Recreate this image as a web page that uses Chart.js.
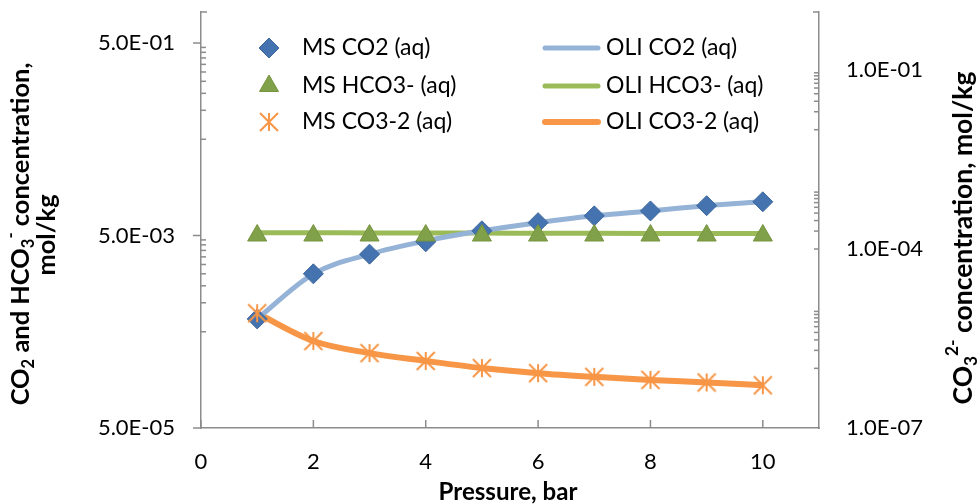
<!DOCTYPE html>
<html>
<head>
<meta charset="utf-8">
<script src="https://cdn.jsdelivr.net/npm/chart.js@4/dist/chart.umd.min.js"></script>
<style>
  body { margin: 0; background: #fff; }
  canvas { display: block; }
</style>
</head>
<body>
<canvas id="chart" width="979" height="504"></canvas>
<script>
// data
const pressure = [1, 2, 3, 4, 5, 6, 7, 8, 9, 10];
const msCO2 = [6.8e-4, 2.0e-3, 3.2e-3, 4.3e-3, 5.6e-3, 6.8e-3, 8.0e-3, 9.0e-3, 1.02e-2, 1.12e-2];
const oliCO2 = [6.8e-4, 2.0e-3, 3.2e-3, 4.4e-3, 5.6e-3, 6.8e-3, 8.0e-3, 9.0e-3, 1.02e-2, 1.12e-2];
const msHCO3 = [5.0e-3, 5.0e-3, 5.0e-3, 5.0e-3, 5.0e-3, 5.0e-3, 5.0e-3, 5.0e-3, 5.0e-3, 5.0e-3];
const oliHCO3 = [5.35e-3, 5.33e-3, 5.32e-3, 5.3e-3, 5.3e-3, 5.28e-3, 5.27e-3, 5.26e-3, 5.25e-3, 5.25e-3];
const msCO3 = [8.4e-6, 2.87e-6, 1.8e-6, 1.33e-6, 1.01e-6, 8.3e-7, 7.2e-7, 6.4e-7, 5.8e-7, 5.2e-7];
const oliCO3 = [8.4e-6, 2.87e-6, 1.8e-6, 1.33e-6, 1.01e-6, 8.3e-7, 7.2e-7, 6.4e-7, 5.8e-7, 5.2e-7];

const xTicks = [0, 2, 4, 6, 8, 10];
const leftTicks = [5e-5, 5e-3, 5e-1];
const rightTicks = [1e-7, 1e-4, 1e-1];
// minor tick groups: nine ticks at k/10 of each of these
const leftMinorBase = [5e-3, 5e-1];
const rightMinorBase = [1e-5, 1e-3, 1e-1];

const FONT = 'Lato, "Open Sans", sans-serif';
const axisColor = '#8c8c8c';

function sci(v) {
    const [m, e] = v.toExponential(1).split('e');
    const n = parseInt(e, 10);
    return m + 'E' + (n < 0 ? '-' : '+') + String(Math.abs(n)).padStart(2, '0');
}

// excel-like star: vertical bar plus an X
function makeStar(color, r, lw) {
    const size = 2 * r + 4;
    const c = document.createElement('canvas');
    c.width = c.height = size;
    const g = c.getContext('2d');
    const m = size / 2;
    g.strokeStyle = color;
    g.lineWidth = lw;
    g.beginPath();
    g.moveTo(m, m - r); g.lineTo(m, m + r);
    g.moveTo(m - r, m - r); g.lineTo(m + r, m + r);
    g.moveTo(m + r, m - r); g.lineTo(m - r, m + r);
    g.stroke();
    return c;
}
const star = makeStar('#F79646', 9, 2);

const pts = arr => pressure.map((x, i) => ({ x: x, y: arr[i] }));

// rich text with sub/superscripts, scaled so the whole run is `len` px long
function drawRich(ctx, parts, cx, cy, rot, len) {
    const measure = size => {
        let w = 0;
        parts.forEach(p => {
            ctx.font = 'bold ' + (p[1] ? size * 0.65 : size) + 'px ' + FONT;
            w += ctx.measureText(p[0]).width;
        });
        return w;
    };
    const size = 20 * len / measure(20);
    const w = measure(size);
    ctx.save();
    ctx.translate(cx, cy);
    ctx.rotate(rot);
    ctx.fillStyle = '#000';
    ctx.textBaseline = 'middle';
    ctx.textAlign = 'left';
    let x = -w / 2;
    parts.forEach(p => {
        ctx.font = 'bold ' + (p[1] ? size * 0.65 : size) + 'px ' + FONT;
        const dy = p[1] === 1 ? size * 0.3 : (p[1] === -1 ? -size * 0.4 : 0);
        ctx.fillText(p[0], x, dy);
        x += ctx.measureText(p[0]).width;
    });
    ctx.restore();
    return size;
}

const extras = {
    id: 'extras',
    afterDraw(chart) {
        const ctx = chart.ctx;
        const { x, y, y2 } = chart.scales;
        const area = chart.chartArea;
        ctx.save();
        ctx.strokeStyle = axisColor;
        ctx.lineWidth = 1.5;
        const seg = (x1, y1, x2, y2_) => { ctx.beginPath(); ctx.moveTo(x1, y1); ctx.lineTo(x2, y2_); ctx.stroke(); };

        // left axis: major outside, minor inside
        leftTicks.forEach(v => { const py = y.getPixelForValue(v); seg(area.left - 8, py, area.left, py); });
        leftMinorBase.forEach(b => {
            for (let k = 1; k <= 9; k++) { const py = y.getPixelForValue(b * k / 10); seg(area.left, py, area.left + 5, py); }
        });
        seg(area.left, area.top, area.left + 6, area.top);

        // right axis ticks inside
        rightMinorBase.forEach(b => {
            for (let k = 1; k <= 9; k++) { const py = y2.getPixelForValue(b * k / 10); seg(area.right - 5, py, area.right, py); }
        });
        seg(area.right - 6, area.top, area.right, area.top);

        // x ticks pointing up
        xTicks.forEach(v => { const px = x.getPixelForValue(v); seg(px, area.bottom - 8, px, area.bottom); });
        ctx.restore();

        // axis titles
        const sz = drawRich(ctx, [['CO'], ['2', 1], [' and HCO'], ['3', 1], ['-', -1], [' concentration,']], 21, 234, -Math.PI / 2, 343);
        ctx.save();
        ctx.translate(47, 235);
        ctx.rotate(-Math.PI / 2);
        ctx.font = 'bold ' + sz + 'px ' + FONT;
        ctx.textAlign = 'center';
        ctx.textBaseline = 'middle';
        ctx.fillStyle = '#000';
        ctx.fillText('mol/kg', 0, 0);
        ctx.restore();
        drawRich(ctx, [['CO'], ['3', 1], ['2-', -1], [' concentration, mol/kg']], 963, 238, -Math.PI / 2, 333);
        drawRich(ctx, [['Pressure, bar']], 508, 492, 0, 139);

        // legend, two columns inside the plot
        const rows = [48, 86, 122];
        const ds = chart.data.datasets;
        ctx.save();
        ctx.font = '23px ' + FONT;
        ctx.fillStyle = '#000';
        ctx.textBaseline = 'middle';
        [0, 1, 2].forEach(i => {
            const d = ds[i];
            const ly = rows[i];
            if (d.pointStyle instanceof HTMLCanvasElement) {
                ctx.drawImage(d.pointStyle, 269 - d.pointStyle.width / 2, ly - d.pointStyle.height / 2);
            } else {
                ctx.fillStyle = d.backgroundColor;
                ctx.strokeStyle = d.borderColor;
                ctx.lineWidth = 1;
                Chart.helpers.drawPoint(ctx, { pointStyle: d.pointStyle, radius: d.pointRadius, rotation: 0, borderWidth: 1 }, 269, ly);
            }
            ctx.fillStyle = '#000';
            ctx.fillText(d.label, 302, ly);
        });
        [3, 4, 5].forEach((i, r) => {
            const d = ds[i];
            const ly = rows[r];
            ctx.strokeStyle = d.borderColor;
            ctx.lineWidth = d.borderWidth;
            ctx.lineCap = 'round';
            ctx.beginPath(); ctx.moveTo(545, ly); ctx.lineTo(598, ly); ctx.stroke();
            ctx.fillStyle = '#000';
            ctx.fillText(d.label, 606, ly);
        });
        ctx.restore();
    }
};

// fixed plot box: keep chart.js from adding label overflow padding
const noPad = s => { s.paddingTop = 0; s.paddingBottom = 0; s.paddingLeft = 0; s.paddingRight = 0; };

new Chart(document.getElementById('chart'), {
    type: 'scatter',
    data: {
        datasets: [
            { label: 'MS CO2 (aq)', data: pts(msCO2), yAxisID: 'y', showLine: false, pointStyle: 'rectRot',
              pointRadius: 10, backgroundColor: '#4573AF', borderColor: '#3D679D', borderWidth: 1, order: 2 },
            { label: 'MS HCO3- (aq)', data: pts(msHCO3), yAxisID: 'y', showLine: false, pointStyle: 'triangle',
              pointRadius: 11, backgroundColor: '#80A049', borderColor: '#76933F', borderWidth: 1, order: 1 },
            { label: 'MS CO3-2 (aq)', data: pts(msCO3), yAxisID: 'y2', showLine: false, pointStyle: star,
              pointRadius: 10, backgroundColor: '#F79646', borderColor: '#F79646', order: 0 },
            { label: 'OLI CO2 (aq)', data: pts(oliCO2), yAxisID: 'y', showLine: true, pointRadius: 0,
              borderColor: '#95B3D7', backgroundColor: '#95B3D7', borderWidth: 5, cubicInterpolationMode: 'monotone', order: 3 },
            { label: 'OLI HCO3- (aq)', data: pts(oliHCO3), yAxisID: 'y', showLine: true, pointRadius: 0,
              borderColor: '#9BBB59', backgroundColor: '#9BBB59', borderWidth: 5, cubicInterpolationMode: 'monotone', order: 3 },
            { label: 'OLI CO3-2 (aq)', data: pts(oliCO3), yAxisID: 'y2', showLine: true, pointRadius: 0,
              borderColor: '#F79646', backgroundColor: '#F79646', borderWidth: 6, cubicInterpolationMode: 'monotone', order: 3 }
        ]
    },
    options: {
        responsive: false,
        animation: false,
        layout: { padding: { top: 12, left: 0, right: 0, bottom: 0 } },
        plugins: { legend: { display: false }, tooltip: { enabled: false } },
        scales: {
            x: {
                type: 'linear', position: 'bottom', min: 0, max: 11,
                grid: { display: false, drawTicks: false },
                border: { color: axisColor, width: 1.5 },
                ticks: { color: '#000', font: { family: FONT, size: 22 }, padding: 21 },
                afterBuildTicks: s => { s.ticks = xTicks.map(v => ({ value: v })); },
                afterFit: s => { s.height = 76; noPad(s); }
            },
            y: {
                type: 'logarithmic', position: 'left', min: 5e-5, max: 1.05,
                grid: { display: false, drawTicks: false },
                border: { color: axisColor, width: 1.5 },
                ticks: { color: '#000', font: { family: FONT, size: 22 }, padding: 26, callback: v => sci(v) },
                afterBuildTicks: s => { s.ticks = leftTicks.map(v => ({ value: v })); },
                afterFit: s => { s.width = 201; noPad(s); }
            },
            y2: {
                type: 'logarithmic', position: 'right', min: 1e-7, max: 0.94,
                grid: { display: false, drawTicks: false },
                border: { color: axisColor, width: 1.5 },
                ticks: { color: '#000', font: { family: FONT, size: 22 }, padding: 27, callback: v => sci(v) },
                afterBuildTicks: s => { s.ticks = rightTicks.map(v => ({ value: v })); },
                afterFit: s => { s.width = 160; noPad(s); }
            }
        }
    },
    plugins: [extras]
});
</script>
</body>
</html>
